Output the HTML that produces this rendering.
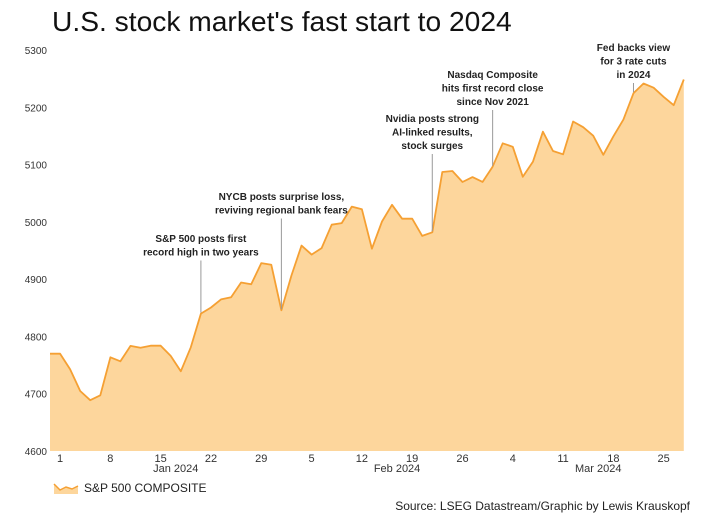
<!DOCTYPE html>
<html><head><meta charset="utf-8"><style>
body{margin:0;background:#fff;}
svg{display:block;font-family:"Liberation Sans",Arial,sans-serif;}
.ann{font-size:10px;font-weight:bold;fill:#222;text-anchor:middle;}
.tick{font-size:11px;fill:#333;}
.ytick{font-size:10px;fill:#333;}
</style></head><body>
<svg id="chart" width="702" height="520">
<text x="52" y="31" font-size="28.2" fill="#111">U.S. stock market's fast start to 2024</text>
<g id="yaxis"></g>
<g id="plot"></g>
<g id="xaxis"></g>
<g id="anns"></g>
<g>
<path d="M54,484 L60,490 L66,487 L72,489 L78,486 L78,494 L54,494 Z" fill="#fdd69c"/>
<path d="M54,484 L60,490 L66,487 L72,489 L78,486" fill="none" stroke="#f5a033" stroke-width="1.5"/>
<text x="84" y="492" font-size="12" fill="#222">S&amp;P 500 COMPOSITE</text>
</g>
<text x="690" y="510" font-size="12" fill="#222" text-anchor="end">Source: LSEG Datastream/Graphic by Lewis Krauskopf</text>
</svg>
<script>
const values=[4769.83,4769.83,4742.83,4704.81,4688.68,4697.24,4763.54,4756.50,4783.45,4780.24,4783.83,4783.83,4765.98,4739.21,4780.94,4839.81,4850.43,4864.60,4868.55,4894.16,4890.97,4927.93,4924.97,4845.65,4906.19,4958.61,4942.81,4954.23,4995.06,4997.91,5026.61,5021.84,4953.17,5000.62,5029.73,5005.57,5005.57,4975.51,4981.80,5087.03,5088.80,5069.53,5078.18,5069.76,5096.27,5137.08,5130.95,5078.65,5104.76,5157.36,5123.69,5117.94,5175.27,5165.31,5150.48,5117.09,5149.42,5178.51,5224.62,5241.53,5234.18,5218.19,5203.58,5248.49];
const yTicks=[4600,4700,4800,4900,5000,5100,5200,5300];
const xTickIdx=[1,6,11,16,21,26,31,36,41,46,51,56,61];
const xTickLabels=["1","8","15","22","29","5","12","19","26","4","11","18","25"];
const monthLabels=["Jan 2024","Feb 2024","Mar 2024"];
const monthIdx=[12.5,34.5,54.5];
const annIdx=[15,23,38,44,58];
const annText=[["S&P 500 posts first","record high in two years"],["NYCB posts surprise loss,","reviving regional bank fears"],["Nvidia posts strong","AI-linked results,","stock surges"],["Nasdaq Composite","hits first record close","since Nov 2021"],["Fed backs view","for 3 rate cuts","in 2024"]];
const annTop=[238,196,118,74,47];

const NS="http://www.w3.org/2000/svg";
const X=i=>50+i*10.06;
const Y=v=>451-(v-4600)*(401/700);
function mk(tag,attrs,parent,txt){const e=document.createElementNS(NS,tag);for(const k in attrs)e.setAttribute(k,attrs[k]);if(txt!==undefined)e.textContent=txt;parent.appendChild(e);return e;}
const ya=document.getElementById('yaxis'),pl=document.getElementById('plot'),xa=document.getElementById('xaxis'),an=document.getElementById('anns');
yTicks.forEach(t=>{const e=mk('text',{x:47,y:Y(t)+4,'text-anchor':'end',class:'ytick'},ya,String(t));

});
let line=values.map((v,i)=>(i?'L':'M')+X(i).toFixed(1)+','+Y(v).toFixed(1)).join(' ');
const area=mk('path',{d:line+` L${X(values.length-1).toFixed(1)},${Y(4600)} L${X(0)},${Y(4600)} Z`,fill:'#fdd69c'},pl);


const ln=mk('path',{d:line,fill:'none',stroke:'#f5a033','stroke-width':1.8,'stroke-linejoin':'round'},pl);


xTickIdx.forEach((idx,k)=>{const e=mk('text',{x:X(idx),y:462,'text-anchor':'middle',class:'tick'},xa,xTickLabels[k]);

});
monthLabels.forEach((m,k)=>{const e=mk('text',{x:X(monthIdx[k]),y:472,'text-anchor':'middle',class:'tick'},xa,m);

});
annIdx.forEach((idx,k)=>{const g=mk('g',{},an);


const x=X(idx),lines=annText[k];
lines.forEach((s,j)=>mk('text',{x:x,y:annTop[k]+4+j*13.5,class:'ann'},g,s));
const ly=annTop[k]+4+(lines.length-1)*13.5+5;
const l=mk('line',{x1:x,x2:x,y1:ly,y2:Y(values[idx])-1,stroke:'#999','stroke-width':1},g);

});
</script>
</body></html>
